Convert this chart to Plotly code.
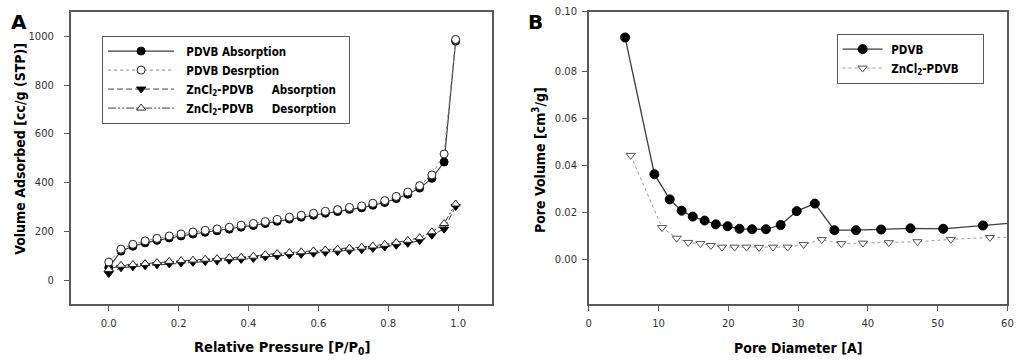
import plotly.graph_objects as go

# ---------------- Panel A data: N2 isotherms ----------------
p_rel = [0.0, 0.035, 0.069, 0.104, 0.138, 0.173, 0.207, 0.241, 0.276, 0.31,
         0.345, 0.379, 0.414, 0.448, 0.482, 0.517, 0.551, 0.586, 0.62, 0.655,
         0.689, 0.724, 0.756, 0.79, 0.823, 0.856, 0.89, 0.925, 0.96, 0.993]
pdvb_ads = [52, 120, 140, 154, 164, 174, 182, 190, 197, 203, 210, 218, 225, 233, 242,
            251, 259, 267, 275, 282, 291, 297, 308, 319, 335, 353, 378, 418, 485, 980]
pdvb_des = [75, 128, 148, 162, 172, 182, 190, 198, 205, 211, 218, 226, 233, 241, 250,
            259, 267, 275, 283, 290, 299, 305, 316, 327, 344, 362, 388, 432, 518, 987]
zn_ads = [28, 52, 56, 60, 64, 68, 71, 74, 77, 80, 83, 86, 90, 96, 100,
          104, 107, 111, 115, 118, 122, 126, 131, 137, 144, 152, 163, 185, 210, 303]
zn_des = [45, 62, 65, 69, 73, 78, 81, 83, 87, 89, 93, 95, 99, 106, 110,
          114, 117, 121, 125, 128, 132, 136, 141, 148, 155, 164, 175, 199, 233, 313]

# ---------------- Panel B data: pore size distribution ----------------
pdvb_diam = [5.2, 9.4, 11.6, 13.3, 14.9, 16.6, 18.2, 19.9, 21.6, 23.4, 25.4, 27.5,
             29.8, 32.4, 35.2, 38.3, 41.9, 46.1, 50.8, 56.5, 62.5]
pdvb_vol = [0.0943, 0.0362, 0.0255, 0.0207, 0.0182, 0.0165, 0.0149, 0.0141, 0.0130,
            0.0128, 0.0128, 0.0146, 0.0205, 0.0237, 0.0124, 0.0124, 0.0127, 0.0132,
            0.0130, 0.0144, 0.0159]
zn_diam = [6.0, 10.5, 12.6, 14.25, 16.0, 17.5, 19.1, 20.9, 22.6, 24.4, 26.4, 28.5,
           30.8, 33.4, 36.2, 39.3, 43.0, 47.1, 51.9, 57.5, 63.5]
zn_vol = [0.0442, 0.0135, 0.0090, 0.0072, 0.0067, 0.0059, 0.0052, 0.0052, 0.0052,
          0.0051, 0.0052, 0.0052, 0.0063, 0.0084, 0.0067, 0.0069, 0.0071, 0.0075,
          0.0085, 0.0093, 0.0095]

a_xticks = [0.0, 0.2, 0.4, 0.6, 0.8, 1.0]
a_yticks = [0, 200, 400, 600, 800, 1000]
b_xticks = [0, 10, 20, 30, 40, 50, 60]
b_ytickvals = [0.00, 0.02, 0.04, 0.06, 0.08, 0.1053]
b_yticktext = ["0.00", "0.02", "0.04", "0.06", "0.08", "0.10"]

W, H = 1024, 363
BOLD = "DejaVu Sans Condensed, DejaVu Sans"
LINE = "#3c3c3c"
FRAME = "#5a5a5a"
NB = "&nbsp;"

fig = go.Figure()

# Panel A traces
fig.add_trace(go.Scatter(
    x=p_rel, y=pdvb_ads, mode="lines+markers", name=NB * 2 + "PDVB Absorption",
    line=dict(color=LINE, width=1.2, dash="solid"),
    marker=dict(symbol="circle", size=8, color="black", line=dict(color="black", width=1)),
    xaxis="x", yaxis="y", legend="legend"))
fig.add_trace(go.Scatter(
    x=p_rel, y=pdvb_des, mode="lines+markers", name=NB * 2 + "PDVB Desrption",
    line=dict(color="#888888", width=1, dash="dot"),
    marker=dict(symbol="circle", size=8, color="white", line=dict(color="#222222", width=1)),
    xaxis="x", yaxis="y", legend="legend"))
fig.add_trace(go.Scatter(
    x=p_rel, y=zn_ads, mode="lines+markers",
    name=NB * 2 + "ZnCl<sub>2</sub>-PDVB" + NB * 5 + "Absorption",
    line=dict(color=LINE, width=1, dash="6px,3px"),
    marker=dict(symbol="triangle-down", size=8, color="black", line=dict(color="black", width=1)),
    xaxis="x", yaxis="y", legend="legend"))
fig.add_trace(go.Scatter(
    x=p_rel, y=zn_des, mode="lines+markers",
    name=NB * 2 + "ZnCl<sub>2</sub>-PDVB" + NB * 5 + "Desorption" + NB * 2,
    line=dict(color=LINE, width=1, dash="8px,2px,2px,2px,2px,2px"),
    marker=dict(symbol="triangle-up", size=8, color="white", line=dict(color="#222222", width=1)),
    xaxis="x", yaxis="y", legend="legend"))

# Panel B traces
fig.add_trace(go.Scatter(
    x=pdvb_diam, y=pdvb_vol, mode="lines+markers", name=NB + "PDVB",
    line=dict(color=LINE, width=1.3),
    marker=dict(symbol="circle", size=9, color="black", line=dict(color="black", width=1)),
    xaxis="x2", yaxis="y2", legend="legend2"))
fig.add_trace(go.Scatter(
    x=zn_diam, y=zn_vol, mode="lines+markers", name=NB + "ZnCl<sub>2</sub>-PDVB" + NB * 5,
    line=dict(color="#9a9a9a", width=1, dash="dot"),
    marker=dict(symbol="triangle-down", size=8, color="white", line=dict(color="#555555", width=1)),
    xaxis="x2", yaxis="y2", legend="legend2"))

ydom = [1 - 303.5 / H, 1 - 6.7 / H]
tickfont = dict(family="DejaVu Sans", size=10, color="#333333")
common_axis = dict(showgrid=False, zeroline=False, showline=True, linecolor=FRAME,
                   linewidth=1.5, mirror=True, ticks="outside", ticklen=5,
                   tickcolor=FRAME, tickwidth=1, tickfont=tickfont)

legend_font = dict(family=BOLD, size=11.5, color="black", weight="bold")
fig.update_layout(
    width=W, height=H,
    margin=dict(l=0, r=0, t=0, b=0),
    paper_bgcolor="white", plot_bgcolor="white",
    xaxis=dict(domain=[68.3 / W, 493.3 / W], range=[-0.109, 1.097],
               tickvals=a_xticks, ticktext=[f"{v:.1f}" for v in a_xticks],
               anchor="y", ticklabelstandoff=4, **common_axis),
    yaxis=dict(domain=ydom, range=[-98, 1101], tickvals=a_yticks,
               anchor="x", ticklabelstandoff=8, **common_axis),
    xaxis2=dict(domain=[591 / W, 1013.3 / W], range=[0, 60], tickvals=b_xticks,
                anchor="y2", ticklabelstandoff=4, **common_axis),
    yaxis2=dict(domain=ydom, range=[-0.0191, 0.1053], tickvals=b_ytickvals,
                ticktext=b_yticktext, anchor="x2", ticklabelstandoff=3, **common_axis),
    legend=dict(x=100 / W, y=1 - 31 / H, xanchor="left", yanchor="top",
                bordercolor=FRAME, borderwidth=1, bgcolor="white",
                font=legend_font, itemwidth=66, tracegroupgap=0),
    legend2=dict(x=841 / W, y=1 - 29 / H, xanchor="left", yanchor="top",
                 bordercolor=FRAME, borderwidth=1, bgcolor="white",
                 font=legend_font, itemwidth=40, tracegroupgap=0),
    showlegend=True,
)

title_font = dict(family=BOLD, size=14, color="black", weight="bold")
title_font_a = dict(family=BOLD, size=14.5, color="black", weight="bold")
big_font = dict(family="DejaVu Sans", size=20, color="black", weight="bold")


def note(text, x, y, font, angle=0):
    return dict(text=text, x=x / W, y=1 - y / H, xref="paper", yref="paper",
                xanchor="center", yanchor="middle", showarrow=False,
                textangle=angle, font=font)


annotations = [
    note("Relative Pressure [P/P<sub>0</sub>]", 281, 348, title_font_a),
    note("Volume Adsorbed [cc/g (STP)]", 17, 146, title_font, -90),
    note("Pore Diameter [A]", 802, 348, title_font),
    note("Pore Volume [cm<sup>3</sup>/g]", 541, 157, title_font, -90),
    note("A", 16, 17, big_font),
    note("B", 537, 17, big_font),
]
fig.update_layout(annotations=annotations)

fig.write_html("out.html", config={"displayModeBar": False},
               post_script="document.body.style.margin='0';document.body.style.overflow='hidden';")
